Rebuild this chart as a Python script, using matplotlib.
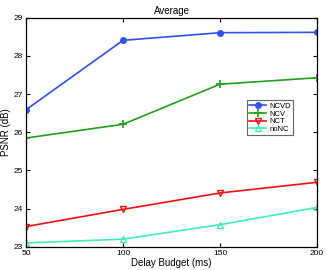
import numpy as np
import matplotlib
matplotlib.use('Agg')
import matplotlib.pyplot as plt

# 数据
delay = [50, 100, 150, 200]
ncvd = [26.59, 28.41, 28.61, 28.62]
ncv = [25.85, 26.21, 27.26, 27.43]
nct = [23.53, 23.98, 24.41, 24.69]
nonc = [23.10, 23.20, 23.58, 24.03]

plt.rcParams['font.family'] = ['Liberation Sans', 'DejaVu Sans']
plt.rcParams['font.size'] = 6.5

fig = plt.figure(figsize=(3.27, 2.70), dpi=100)
ax = fig.add_axes([0.0795, 0.086, 0.89, 0.848])

ax.plot(delay, ncvd, '-o', color='#3050f8', lw=1.2, ms=4, label='NCVD')
ax.plot(delay, ncv, '-+', color='#20a020', lw=1.2, ms=6, mew=1.2, label='NCV')
ax.plot(delay, nct, '-v', color='#f01010', lw=1.2, ms=5, mfc='none', mew=1.0, label='NCT')
ax.plot(delay, nonc, '-^', color='#40f0b0', lw=1.2, ms=5, mfc='none', mew=1.0, label='noNC')

ax.set_xlim(50, 200)
ax.set_ylim(23, 29)
ax.set_xticks([50, 100, 150, 200])
ax.set_yticks([23, 24, 25, 26, 27, 28, 29])
ax.tick_params(direction='in', top=True, right=True, length=3, width=0.8, pad=2, labelsize=6)
for s in ax.spines.values():
    s.set_linewidth(0.9)

ax.set_title('Average', fontsize=7, pad=3)
ax.set_xlabel('Delay Budget (ms)', fontsize=7, labelpad=1)
ax.set_ylabel('PSNR (dB)', fontsize=7, labelpad=2)

leg = ax.legend(loc='upper left', bbox_to_anchor=(0.76, 0.64), fontsize=5.5,
                fancybox=False, edgecolor='#666666', framealpha=1,
                handlelength=2.2, handletextpad=0.4, borderpad=0.3,
                labelspacing=0.05, borderaxespad=0)
leg.get_frame().set_linewidth(0.8)

fig.savefig('out.png', dpi=100)
